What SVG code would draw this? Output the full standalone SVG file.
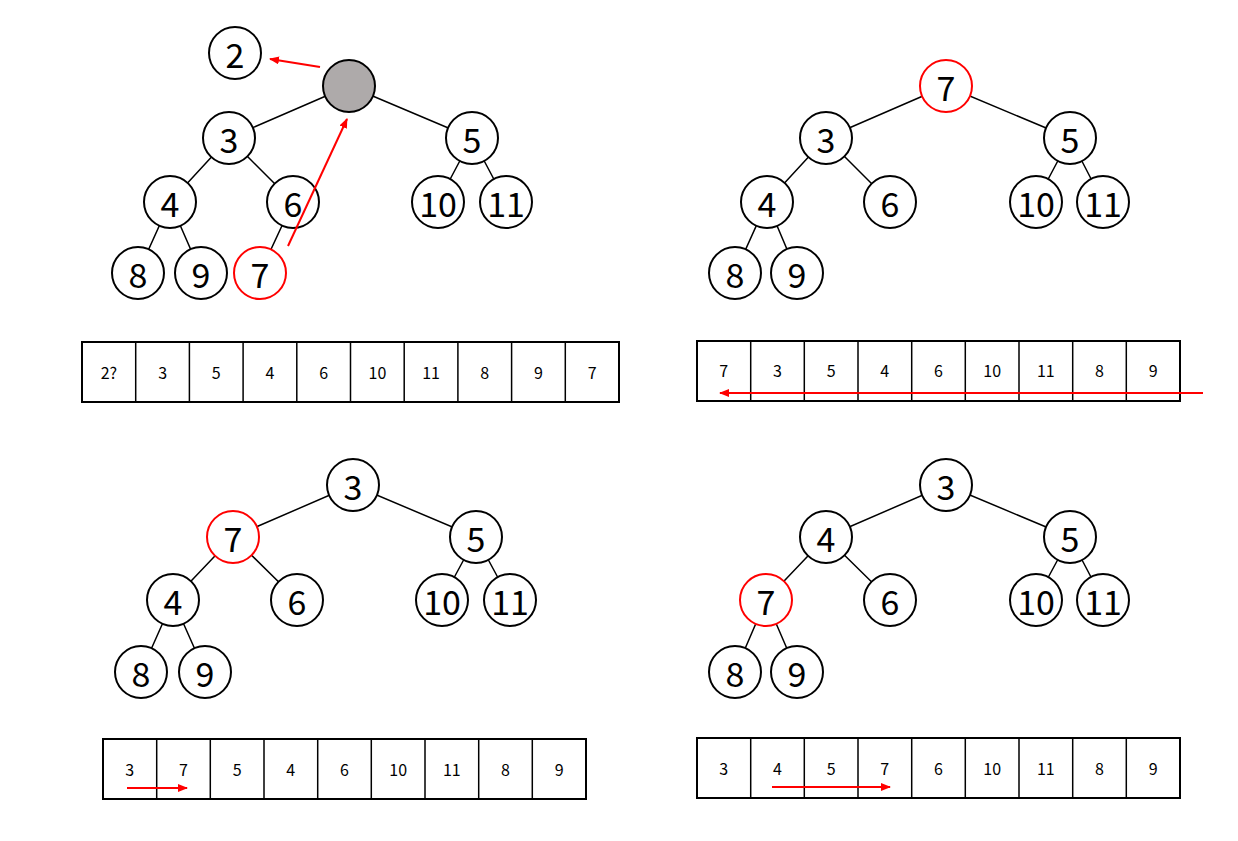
<svg xmlns="http://www.w3.org/2000/svg" width="1238" height="841" viewBox="0 0 1238 841">
<defs>
<marker id="ah" markerWidth="10" markerHeight="8" refX="9" refY="4" orient="auto" markerUnits="userSpaceOnUse"><path d="M0,0 L10,4 L0,8 z" fill="#ff0000"/></marker>
<style>
.n{fill:#fff;stroke:#000;stroke-width:2}
.r{fill:#fff;stroke:#ff0000;stroke-width:2}
.g{fill:#aeaaaa;stroke:#000;stroke-width:2}
.t{font-family:"Noto Sans CJK KR","Noto Sans",sans-serif;font-size:34px;text-anchor:middle;dominant-baseline:central}
.s{font-family:"Noto Sans CJK KR","Noto Sans",sans-serif;font-size:16px;text-anchor:middle;dominant-baseline:central}
.e{stroke:#000;stroke-width:1.5;fill:none}
.a{stroke:#ff0000;stroke-width:2;fill:none;marker-end:url(#ah)}
.c{fill:#fff;stroke:#000;stroke-width:2}
</style>
</defs>
<rect width="1238" height="841" fill="#fff"/>
<g id="connectors">
<path class="e" d="M349,86L229,138M349,86L472,138M229,138L170,202M229,138L293,202M472,138L438,202M472,138L506,202M170,202L138,273M170,202L201,273M293,202L260,273"/>
<path class="e" d="M946,86L826,138M946,86L1070,138M826,138L767,202M826,138L890,202M1070,138L1036,202M1070,138L1103,202M767,202L735,273M767,202L797,273"/>
<path class="e" d="M353,485L233,537M353,485L476,537M233,537L173,600M233,537L297,600M476,537L442,600M476,537L510,600M173,600L141,672M173,600L205,672"/>
<path class="e" d="M946,485L826,537M946,485L1070,537M826,537L766,600M826,537L890,600M1070,537L1036,600M1070,537L1103,600M766,600L735,672M766,600L797,672"/>
</g>
<g id="p1">
<g id="n1_2"><circle class="n" cx="235" cy="53" r="26"/><text class="t" x="235" y="53">2</text></g>
<g id="n1_root"><circle class="g" cx="349" cy="86" r="26"/></g>
<g id="n1_3"><circle class="n" cx="229" cy="138" r="26"/><text class="t" x="229" y="138">3</text></g>
<g id="n1_5"><circle class="n" cx="472" cy="138" r="26"/><text class="t" x="472" y="138">5</text></g>
<g id="n1_4"><circle class="n" cx="170" cy="202" r="26"/><text class="t" x="170" y="202">4</text></g>
<g id="n1_6"><circle class="n" cx="293" cy="202" r="26"/><text class="t" x="293" y="202">6</text></g>
<g id="n1_10"><circle class="n" cx="438" cy="202" r="26"/><text class="t" x="438" y="202">10</text></g>
<g id="n1_11"><circle class="n" cx="506" cy="202" r="26"/><text class="t" x="506" y="202">11</text></g>
<g id="n1_8"><circle class="n" cx="138" cy="273" r="26"/><text class="t" x="138" y="273">8</text></g>
<g id="n1_9"><circle class="n" cx="201" cy="273" r="26"/><text class="t" x="201" y="273">9</text></g>
<g id="n1_7"><circle class="r" cx="260" cy="273" r="26"/><text class="t" x="260" y="273">7</text></g>
</g>
<g id="p2">
<g id="n2_7"><circle class="r" cx="946" cy="86" r="26"/><text class="t" x="946" y="86">7</text></g>
<g id="n2_3"><circle class="n" cx="826" cy="138" r="26"/><text class="t" x="826" y="138">3</text></g>
<g id="n2_5"><circle class="n" cx="1070" cy="138" r="26"/><text class="t" x="1070" y="138">5</text></g>
<g id="n2_4"><circle class="n" cx="767" cy="202" r="26"/><text class="t" x="767" y="202">4</text></g>
<g id="n2_6"><circle class="n" cx="890" cy="202" r="26"/><text class="t" x="890" y="202">6</text></g>
<g id="n2_10"><circle class="n" cx="1036" cy="202" r="26"/><text class="t" x="1036" y="202">10</text></g>
<g id="n2_11"><circle class="n" cx="1103" cy="202" r="26"/><text class="t" x="1103" y="202">11</text></g>
<g id="n2_8"><circle class="n" cx="735" cy="273" r="26"/><text class="t" x="735" y="273">8</text></g>
<g id="n2_9"><circle class="n" cx="797" cy="273" r="26"/><text class="t" x="797" y="273">9</text></g>
</g>
<g id="p3">
<g id="n3_3"><circle class="n" cx="353" cy="485" r="26"/><text class="t" x="353" y="485">3</text></g>
<g id="n3_7"><circle class="r" cx="233" cy="537" r="26"/><text class="t" x="233" y="537">7</text></g>
<g id="n3_5"><circle class="n" cx="476" cy="537" r="26"/><text class="t" x="476" y="537">5</text></g>
<g id="n3_4"><circle class="n" cx="173" cy="600" r="26"/><text class="t" x="173" y="600">4</text></g>
<g id="n3_6"><circle class="n" cx="297" cy="600" r="26"/><text class="t" x="297" y="600">6</text></g>
<g id="n3_10"><circle class="n" cx="442" cy="600" r="26"/><text class="t" x="442" y="600">10</text></g>
<g id="n3_11"><circle class="n" cx="510" cy="600" r="26"/><text class="t" x="510" y="600">11</text></g>
<g id="n3_8"><circle class="n" cx="141" cy="672" r="26"/><text class="t" x="141" y="672">8</text></g>
<g id="n3_9"><circle class="n" cx="205" cy="672" r="26"/><text class="t" x="205" y="672">9</text></g>
</g>
<g id="p4">
<g id="n4_3"><circle class="n" cx="946" cy="485" r="26"/><text class="t" x="946" y="485">3</text></g>
<g id="n4_4"><circle class="n" cx="826" cy="537" r="26"/><text class="t" x="826" y="537">4</text></g>
<g id="n4_5"><circle class="n" cx="1070" cy="537" r="26"/><text class="t" x="1070" y="537">5</text></g>
<g id="n4_7"><circle class="r" cx="766" cy="600" r="26"/><text class="t" x="766" y="600">7</text></g>
<g id="n4_6"><circle class="n" cx="890" cy="600" r="26"/><text class="t" x="890" y="600">6</text></g>
<g id="n4_10"><circle class="n" cx="1036" cy="600" r="26"/><text class="t" x="1036" y="600">10</text></g>
<g id="n4_11"><circle class="n" cx="1103" cy="600" r="26"/><text class="t" x="1103" y="600">11</text></g>
<g id="n4_8"><circle class="n" cx="735" cy="672" r="26"/><text class="t" x="735" y="672">8</text></g>
<g id="n4_9"><circle class="n" cx="797" cy="672" r="26"/><text class="t" x="797" y="672">9</text></g>
</g>
<g id="array1">
<rect class="c" x="82" y="342" width="537" height="60"/>
<path class="e" stroke-width="2" d="M135.7,342V402M189.4,342V402M243.1,342V402M296.8,342V402M350.5,342V402M404.2,342V402M457.9,342V402M511.6,342V402M565.3,342V402"/>
<text class="s" x="108.9" y="372">2?</text><text class="s" x="162.6" y="372">3</text><text class="s" x="216.3" y="372">5</text><text class="s" x="270" y="372">4</text><text class="s" x="323.7" y="372">6</text><text class="s" x="377.4" y="372">10</text><text class="s" x="431.1" y="372">11</text><text class="s" x="484.8" y="372">8</text><text class="s" x="538.5" y="372">9</text><text class="s" x="592.2" y="372">7</text>
</g>
<g id="array2">
<rect class="c" x="697" y="341" width="483" height="60"/>
<path class="e" stroke-width="2" d="M750.7,341V401M804.3,341V401M858,341V401M911.7,341V401M965.3,341V401M1019,341V401M1072.7,341V401M1126.3,341V401"/>
<text class="s" x="723.8" y="370">7</text><text class="s" x="777.5" y="370">3</text><text class="s" x="831.2" y="370">5</text><text class="s" x="884.8" y="370">4</text><text class="s" x="938.5" y="370">6</text><text class="s" x="992.2" y="370">10</text><text class="s" x="1045.8" y="370">11</text><text class="s" x="1099.5" y="370">8</text><text class="s" x="1153.2" y="370">9</text>
</g>
<g id="array3">
<rect class="c" x="103" y="739" width="483" height="60"/>
<path class="e" stroke-width="2" d="M156.7,739V799M210.3,739V799M264,739V799M317.7,739V799M371.3,739V799M425,739V799M478.7,739V799M532.3,739V799"/>
<text class="s" x="129.8" y="769">3</text><text class="s" x="183.5" y="769">7</text><text class="s" x="237.2" y="769">5</text><text class="s" x="290.8" y="769">4</text><text class="s" x="344.5" y="769">6</text><text class="s" x="398.2" y="769">10</text><text class="s" x="451.8" y="769">11</text><text class="s" x="505.5" y="769">8</text><text class="s" x="559.2" y="769">9</text>
</g>
<g id="array4">
<rect class="c" x="697" y="738" width="483" height="60"/>
<path class="e" stroke-width="2" d="M750.7,738V798M804.3,738V798M858,738V798M911.7,738V798M965.3,738V798M1019,738V798M1072.7,738V798M1126.3,738V798"/>
<text class="s" x="723.8" y="768">3</text><text class="s" x="777.5" y="768">4</text><text class="s" x="831.2" y="768">5</text><text class="s" x="884.8" y="768">7</text><text class="s" x="938.5" y="768">6</text><text class="s" x="992.2" y="768">10</text><text class="s" x="1045.8" y="768">11</text><text class="s" x="1099.5" y="768">8</text><text class="s" x="1153.2" y="768">9</text>
</g>
<g id="arrows">
<path class="a" d="M320,67L270,59"/>
<path class="a" d="M288,246L347,119"/>
<path class="a" d="M1203,393L720,393"/>
<path class="a" d="M127,788L187,788"/>
<path class="a" d="M772,787L890,787"/>
</g>
</svg>
